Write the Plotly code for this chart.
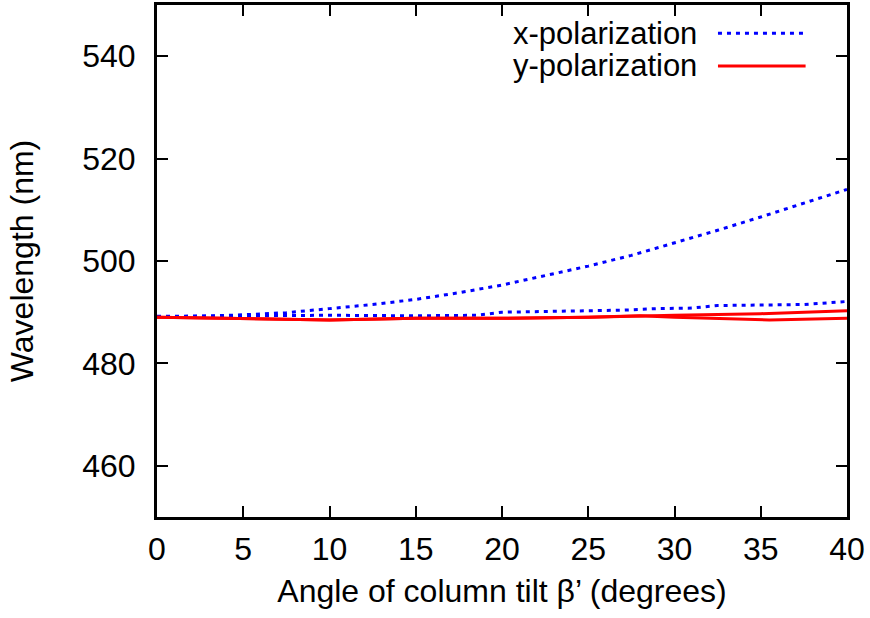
import plotly.graph_objects as go

# tilt angle (degrees) and resonance wavelength (nm)
x_pol_a_angle = [0, 2.5, 5, 7.5, 10, 12.5, 15, 17.5, 20, 22.5, 25, 27.5, 30, 32.5, 35, 37.5, 40]
x_pol_a_wl = [489.1, 489.2, 489.5, 489.9, 490.7, 491.5, 492.5, 493.8, 495.3, 497.1, 499.0, 501.1, 503.5, 506.0, 508.6, 511.3, 514.0]

x_pol_b_angle = [0, 5, 10, 15, 18.5, 20, 25, 27, 29, 31, 32.5, 37.5, 40]
x_pol_b_wl = [489.2, 489.3, 489.4, 489.3, 489.4, 490.0, 490.2, 490.4, 490.7, 490.8, 491.3, 491.5, 492.1]

y_pol_a_angle = [0, 5, 10, 15, 20, 25, 28, 30, 35, 40]
y_pol_a_wl = [489.0, 488.8, 488.5, 488.8, 488.8, 489.0, 489.3, 489.4, 489.7, 490.3]

y_pol_b_angle = [0, 5, 10, 15, 20, 25, 28, 30, 35.5, 40]
y_pol_b_wl = [489.0, 488.8, 488.5, 488.8, 488.8, 489.0, 489.3, 489.0, 488.5, 488.8]

x_ticks = [0, 5, 10, 15, 20, 25, 30, 35, 40]
y_ticks = [460, 480, 500, 520, 540]

BLUE = "#0000ff"
RED = "#ff0000"
FONT = "Liberation Sans"
FSIZE = 32
DOTS = "4px,5px"

fig = go.Figure()

# blue dotted curves
for xs, ys in [(x_pol_a_angle, x_pol_a_wl), (x_pol_b_angle, x_pol_b_wl)]:
    fig.add_trace(go.Scatter(x=xs, y=ys, mode="lines",
                             line=dict(color=BLUE, width=3, dash=DOTS),
                             showlegend=False))

# red solid curves
for xs, ys in [(y_pol_a_angle, y_pol_a_wl), (y_pol_b_angle, y_pol_b_wl)]:
    fig.add_trace(go.Scatter(x=xs, y=ys, mode="lines",
                             line=dict(color=RED, width=3),
                             showlegend=False))

# gnuplot-style key: text on the left, sample line on the right
key = [("x-polarization", BLUE, DOTS, 0.945), ("y-polarization", RED, "solid", 0.881)]
for label, col, dash, yk in key:
    fig.add_annotation(xref="paper", yref="paper", x=0.785, y=yk,
                       text=label, showarrow=False, xanchor="right", yanchor="middle",
                       font=dict(family=FONT, size=FSIZE - 1, color="black"))
    fig.add_shape(type="line", xref="paper", yref="paper",
                  x0=0.813, x1=0.94, y0=yk, y1=yk,
                  line=dict(color=col, width=3, dash=dash))

axis_common = dict(
    showgrid=False, zeroline=False, showline=True, mirror="allticks",
    linecolor="black", linewidth=3, ticks="inside", ticklen=11,
    tickwidth=2, tickcolor="black",
    tickfont=dict(family=FONT, size=FSIZE, color="black"),
)

fig.update_xaxes(range=[0, 40], tickvals=x_ticks, ticklabelstandoff=2,
                 title=dict(text="Angle of column tilt β’ (degrees)", standoff=14,
                            font=dict(family=FONT, size=FSIZE, color="black")),
                 **axis_common)
fig.update_yaxes(range=[450, 550], tickvals=y_ticks, ticklabelstandoff=12,
                 title=dict(text="Wavelength (nm)", standoff=40,
                            font=dict(family=FONT, size=FSIZE, color="black")),
                 **axis_common)

fig.update_layout(
    width=870, height=618,
    margin=dict(l=157, r=23, t=5, b=101, autoexpand=False),
    plot_bgcolor="white", paper_bgcolor="white",
    showlegend=False,
)

# drop the default page margin so the figure sits at the window origin
fig.write_html("out.html", config={"displayModeBar": False},
               post_script="document.body.style.margin='0';")
